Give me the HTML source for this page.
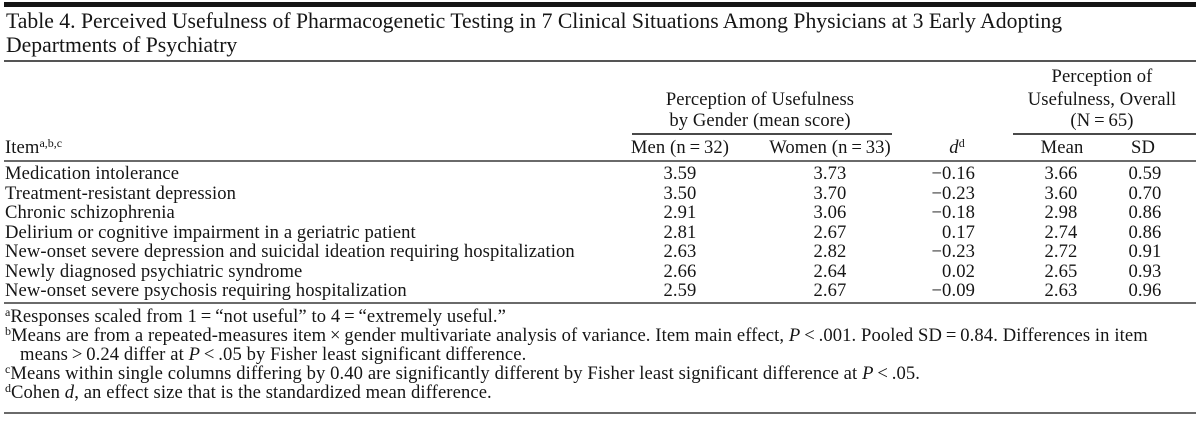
<!DOCTYPE html>
<html>
<head>
<meta charset="utf-8">
<style>
  html,body{margin:0;padding:0;background:#fff;}
  #c{position:relative;width:1200px;height:434px;overflow:hidden;background:#fff;
     font-family:"Liberation Serif","DejaVu Serif",serif;color:#151515;}
  .t{position:absolute;white-space:nowrap;font-size:18.6px;line-height:18px;letter-spacing:.1px;margin-top:1.5px;}
  .ti{position:absolute;white-space:nowrap;font-size:21.7px;line-height:21.5px;left:6px;}
  .c{text-align:center;width:240px;}
  .r{text-align:right;width:120px;}
  .rule{position:absolute;left:4px;width:1192px;height:2px;background:#6a6a6a;}
  sup{font-size:12px;line-height:0;vertical-align:6px;letter-spacing:0;}
  i{font-style:italic;}
</style>
</head>
<body>
<div id="c">
  <div class="rule" style="top:2px;height:5px;background:#141414;"></div>

  <div class="ti" style="top:11px;">Table 4. Perceived Usefulness of Pharmacogenetic Testing in 7 Clinical Situations Among Physicians at 3 Early Adopting</div>
  <div class="ti" style="top:35px;">Departments of Psychiatry</div>
  <div class="rule" style="top:60px;height:2px;background:#555;"></div>

  <div class="t c" style="top:89px;left:640px;">Perception of Usefulness</div>
  <div class="t c" style="top:110.5px;left:640px;">by Gender (mean score)</div>
  <div class="rule" style="top:133px;left:632px;width:260px;background:#4a4a4a;"></div>

  <div class="t c" style="top:66.5px;left:982px;">Perception of</div>
  <div class="t c" style="top:89px;left:982px;">Usefulness, Overall</div>
  <div class="t c" style="top:110.5px;left:982px;">(N&#8201;=&#8201;65)</div>
  <div class="rule" style="top:133px;left:1013px;width:183px;background:#4a4a4a;"></div>

  <div class="t" style="top:137.5px;left:5px;">Item<sup>a,b,c</sup></div>
  <div class="t c" style="top:137.5px;left:560px;">Men (n&#8201;=&#8201;32)</div>
  <div class="t c" style="top:137.5px;left:710px;">Women (n&#8201;=&#8201;33)</div>
  <div class="t c" style="top:137.5px;left:837px;"><i>d</i><sup>d</sup></div>
  <div class="t c" style="top:137.5px;left:942px;">Mean</div>
  <div class="t c" style="top:137.5px;left:1023px;">SD</div>
  <div class="rule" style="top:160px;"></div>

  <div class="t" style="top:163.5px;left:5px;">Medication intolerance</div>
  <div class="t c" style="top:163.5px;left:560px;">3.59</div>
  <div class="t c" style="top:163.5px;left:710px;">3.73</div>
  <div class="t r" style="top:163.5px;left:855px;">&#8722;0.16</div>
  <div class="t c" style="top:163.5px;left:941px;">3.66</div>
  <div class="t c" style="top:163.5px;left:1025px;">0.59</div>

  <div class="t" style="top:183px;left:5px;">Treatment-resistant depression</div>
  <div class="t c" style="top:183px;left:560px;">3.50</div>
  <div class="t c" style="top:183px;left:710px;">3.70</div>
  <div class="t r" style="top:183px;left:855px;">&#8722;0.23</div>
  <div class="t c" style="top:183px;left:941px;">3.60</div>
  <div class="t c" style="top:183px;left:1025px;">0.70</div>

  <div class="t" style="top:202.5px;left:5px;">Chronic schizophrenia</div>
  <div class="t c" style="top:202.5px;left:560px;">2.91</div>
  <div class="t c" style="top:202.5px;left:710px;">3.06</div>
  <div class="t r" style="top:202.5px;left:855px;">&#8722;0.18</div>
  <div class="t c" style="top:202.5px;left:941px;">2.98</div>
  <div class="t c" style="top:202.5px;left:1025px;">0.86</div>

  <div class="t" style="top:222px;left:5px;">Delirium or cognitive impairment in a geriatric patient</div>
  <div class="t c" style="top:222px;left:560px;">2.81</div>
  <div class="t c" style="top:222px;left:710px;">2.67</div>
  <div class="t r" style="top:222px;left:855px;">0.17</div>
  <div class="t c" style="top:222px;left:941px;">2.74</div>
  <div class="t c" style="top:222px;left:1025px;">0.86</div>

  <div class="t" style="top:241.5px;left:5px;">New-onset severe depression and suicidal ideation requiring hospitalization</div>
  <div class="t c" style="top:241.5px;left:560px;">2.63</div>
  <div class="t c" style="top:241.5px;left:710px;">2.82</div>
  <div class="t r" style="top:241.5px;left:855px;">&#8722;0.23</div>
  <div class="t c" style="top:241.5px;left:941px;">2.72</div>
  <div class="t c" style="top:241.5px;left:1025px;">0.91</div>

  <div class="t" style="top:261px;left:5px;">Newly diagnosed psychiatric syndrome</div>
  <div class="t c" style="top:261px;left:560px;">2.66</div>
  <div class="t c" style="top:261px;left:710px;">2.64</div>
  <div class="t r" style="top:261px;left:855px;">0.02</div>
  <div class="t c" style="top:261px;left:941px;">2.65</div>
  <div class="t c" style="top:261px;left:1025px;">0.93</div>

  <div class="t" style="top:280.5px;left:5px;">New-onset severe psychosis requiring hospitalization</div>
  <div class="t c" style="top:280.5px;left:560px;">2.59</div>
  <div class="t c" style="top:280.5px;left:710px;">2.67</div>
  <div class="t r" style="top:280.5px;left:855px;">&#8722;0.09</div>
  <div class="t c" style="top:280.5px;left:941px;">2.63</div>
  <div class="t c" style="top:280.5px;left:1025px;">0.96</div>

  <div class="rule" style="top:302px;"></div>

  <div class="t" style="top:306.5px;left:5px;"><sup>a</sup>Responses scaled from 1&#8201;=&#8201;&#8220;not useful&#8221; to 4&#8201;=&#8201;&#8220;extremely useful.&#8221;</div>
  <div class="t" style="top:325.5px;left:5px;"><sup>b</sup>Means are from a repeated-measures item&#8201;&#215;&#8201;gender multivariate analysis of variance. Item main effect, <i>P</i>&#8201;&lt;&#8201;.001. Pooled SD&#8201;=&#8201;0.84. Differences in item</div>
  <div class="t" style="top:344.5px;left:20px;">means&#8201;&gt;&#8201;0.24 differ at <i>P</i>&#8201;&lt;&#8201;.05 by Fisher least significant difference.</div>
  <div class="t" style="top:363.5px;left:5px;"><sup>c</sup>Means within single columns differing by 0.40 are significantly different by Fisher least significant difference at <i>P</i>&#8201;&lt;&#8201;.05.</div>
  <div class="t" style="top:382px;left:5px;"><sup>d</sup>Cohen <i>d</i>, an effect size that is the standardized mean difference.</div>

  <div class="rule" style="top:412px;height:2px;"></div>
</div>
</body>
</html>
